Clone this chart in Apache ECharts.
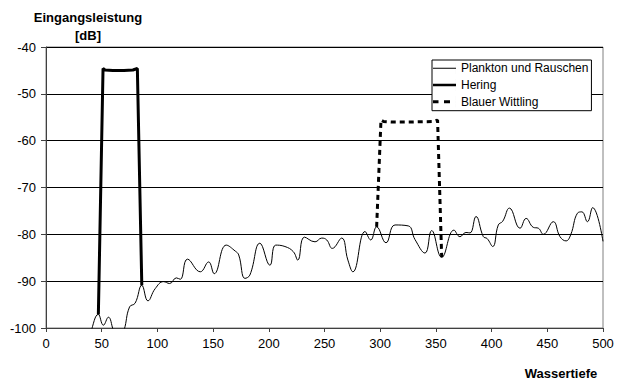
<!DOCTYPE html>
<html>
<head>
<meta charset="utf-8">
<script src="https://cdn.jsdelivr.net/npm/echarts@6/dist/echarts.min.js"></script>
<style>html,body{margin:0;padding:0;background:#fff;}#c{width:618px;height:385px;}</style>
</head>
<body>
<div id="c"></div>
<script>
// Depth values (m) and input power (dB)
var planktonDepth = [0,30,40,47,51.5,56,60.5,65,70,75,80,86,91.5,98,105.5,111,117,120.5,127,138.5,146,151,161.8,170,173,178.6,183,192,201,206.2,214.5,222,226,232,241.5,247.5,252,257,265.4,271,275.5,286.4,291.5,296.8,305.2,313.3,325.2,331.2,340.2,346.2,355.2,366.2,371.6,377,380.6,386,392.6,396,401,406,410,416,425.5,431,437.4,442,446.4,455.4,461.4,466.8,471,477,481,486,490.7,500];
var planktonDb = [-110,-108,-101,-97.1,-99.4,-97.7,-100.5,-103,-100.5,-95.5,-94.7,-90.9,-94.2,-91.6,-90.1,-90.5,-89.3,-89.6,-85.3,-88,-85.9,-88.4,-82.3,-83.6,-84.4,-89.4,-88.7,-81.9,-86.6,-82.3,-82.6,-83.7,-85.5,-80.6,-81.6,-80.8,-81.2,-83,-80.8,-85.5,-88,-79.4,-81.2,-78.4,-81.8,-78,-78.2,-81.1,-84,-79.2,-84.9,-79.1,-80.5,-79.6,-79.7,-76.2,-80.5,-80.9,-82.6,-78,-77.2,-74.4,-78.7,-76.6,-78.5,-78.7,-80,-77.3,-80.5,-81.4,-80.1,-75.5,-75.2,-77.3,-74.3,-81.5];
var heringDepth = [47,51.2,53,60,70,78,82,86];
var heringDb = [-97.1,-44.6,-44.9,-45,-45,-44.9,-44.6,-90.9];
var wittlingDepth = [296.8,300.7,303,310,330,348,351.5,355.2];
var wittlingDb = [-78.4,-55.6,-55.9,-56,-56,-55.9,-55.6,-84.9];
var seriesNames = ['Plankton und Rauschen','Hering','Blauer Wittling'];
var xTicks = {min:0,max:500,interval:50};
var yTicks = {min:-100,max:-40,interval:10};

function zip(a,b){return a.map(function(v,i){return [v,b[i]];});}
var font = "'Liberation Sans', Arial, sans-serif";
var frame = 'M0,0H0.01V12H0Z M22.99,0H23V12H22.99Z ';
var icons = [
  'path://' + frame + 'M0,5.5H23V6.5H0Z',
  'path://' + frame + 'M0,4.7H23V7.3H0Z',
  'path://' + frame + 'M0,4.5H5.5V7.5H0Z M11,4.5H17V7.5H11Z'
];
var chart = echarts.init(document.getElementById('c'), null, {renderer:'svg'});
chart.setOption({
  animation:false,
  backgroundColor:'#fff',
  grid:{left:46,right:15,top:47,bottom:57,show:true,borderColor:'#808080',borderWidth:1,backgroundColor:'transparent'},
  xAxis:{type:'value',min:xTicks.min,max:xTicks.max,interval:xTicks.interval,
    axisLine:{lineStyle:{color:'#404040',width:1}},
    axisTick:{show:true,length:4,lineStyle:{color:'#404040'}},
    axisLabel:{color:'#000',fontSize:13,fontFamily:font,margin:9},
    splitLine:{show:false}},
  yAxis:{type:'value',min:yTicks.min,max:yTicks.max,interval:yTicks.interval,
    axisLine:{show:true,lineStyle:{color:'#404040',width:1}},
    axisTick:{show:true,length:5,lineStyle:{color:'#404040'}},
    axisLabel:{color:'#000',fontSize:13,fontFamily:font,margin:10},
    splitLine:{show:true,lineStyle:{color:'#000',width:1}}},
  legend:{orient:'vertical',left:432,top:60,itemWidth:23,itemHeight:12,itemGap:4.7,
    symbolKeepAspect:false,
    padding:[2.3,3,3,1],borderColor:'#000',borderWidth:1,backgroundColor:'#fff',
    textStyle:{color:'#000',fontSize:12,fontFamily:font},
    itemStyle:{color:'#000',borderWidth:0},
    data:seriesNames.map(function(n,i){return {name:n,icon:icons[i]};})},
  graphic:[
    {type:'text',style:{text:'Eingangsleistung',x:88,y:17,align:'center',verticalAlign:'middle',font:'bold 13px '+font,fill:'#000'}},
    {type:'text',style:{text:'[dB]',x:88,y:35,align:'center',verticalAlign:'middle',font:'bold 13px '+font,fill:'#000'}},
    {type:'text',style:{text:'Wassertiefe',x:561,y:373,align:'center',verticalAlign:'middle',font:'bold 13px '+font,fill:'#000'}}
  ],
  series:[
    {name:seriesNames[0],type:'line',data:zip(planktonDepth,planktonDb),smooth:0.45,symbol:'none',
      lineStyle:{color:'#000',width:1},itemStyle:{color:'#000'},z:3},
    {name:seriesNames[1],type:'line',data:zip(heringDepth,heringDb),smooth:false,symbol:'none',
      lineStyle:{color:'#000',width:3},itemStyle:{color:'#000'},z:4},
    {name:seriesNames[2],type:'line',data:zip(wittlingDepth,wittlingDb),smooth:false,symbol:'none',
      lineStyle:{color:'#000',width:3,type:[5,4]},itemStyle:{color:'#000'},z:4}
  ]
});
</script>
</body>
</html>
